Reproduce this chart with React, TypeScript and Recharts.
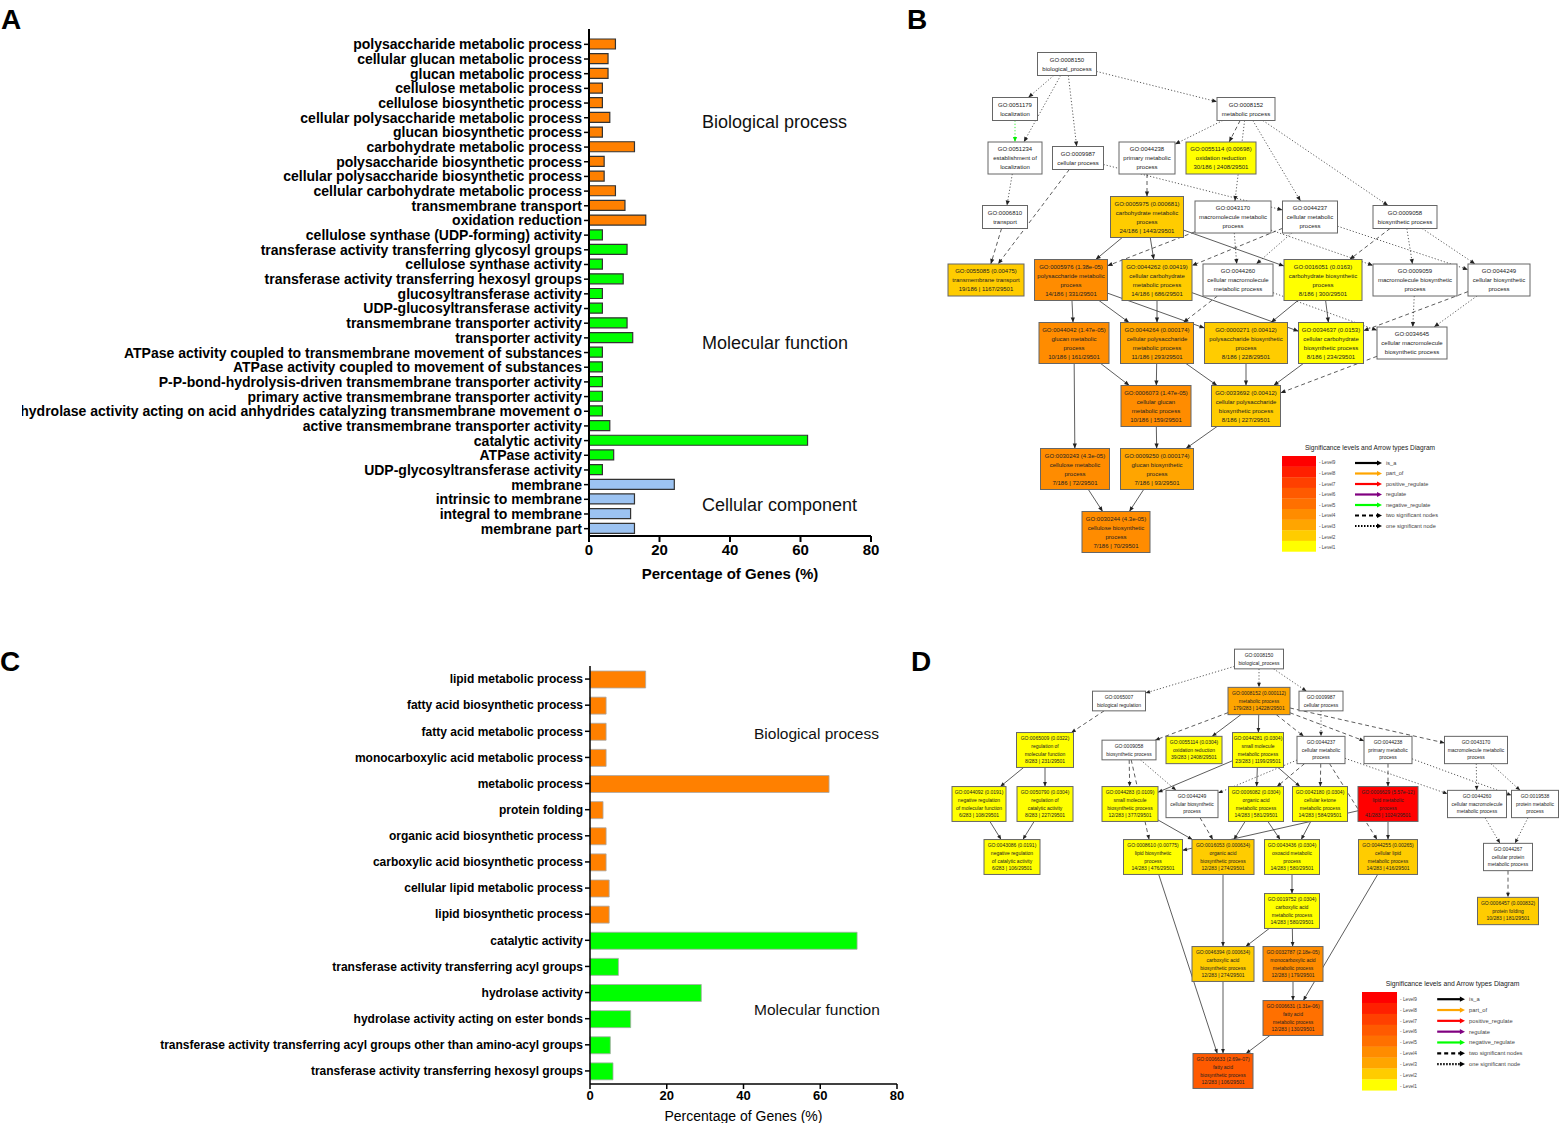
import { Bar, BarChart, Cell, Label, Scatter, ScatterChart, XAxis, YAxis } from 'recharts';

const FONT = '"Liberation Sans", Arial, sans-serif';

// ---------- panel A : GO enrichment, gene set 1 ----------
const A_TERMS = [
    'polysaccharide metabolic process',
    'cellular glucan metabolic process',
    'glucan metabolic process',
    'cellulose metabolic process',
    'cellulose biosynthetic process',
    'cellular polysaccharide metabolic process',
    'glucan biosynthetic process',
    'carbohydrate metabolic process',
    'polysaccharide biosynthetic process',
    'cellular polysaccharide biosynthetic process',
    'cellular carbohydrate metabolic process',
    'transmembrane transport',
    'oxidation reduction',
    'cellulose synthase (UDP-forming) activity',
    'transferase activity transferring glycosyl groups',
    'cellulose synthase activity',
    'transferase activity transferring hexosyl groups',
    'glucosyltransferase activity',
    'UDP-glucosyltransferase activity',
    'transmembrane transporter activity',
    'transporter activity',
    'ATPase activity coupled to transmembrane movement of substances',
    'ATPase activity coupled to movement of substances',
    'P-P-bond-hydrolysis-driven transmembrane transporter activity',
    'primary active transmembrane transporter activity',
    'hydrolase activity acting on acid anhydrides catalyzing transmembrane movement o',
    'active transmembrane transporter activity',
    'catalytic activity',
    'ATPase activity',
    'UDP-glycosyltransferase activity',
    'membrane',
    'intrinsic to membrane',
    'integral to membrane',
    'membrane part',
];
const A_VALUES = [
    7.5, 5.4, 5.4, 3.8, 3.8, 5.9, 3.8, 12.9, 4.3, 4.3, 7.5, 10.2, 16.1,
    3.8, 10.8, 3.8, 9.7, 3.8, 3.8, 10.8, 12.4, 3.8, 3.8, 3.8, 3.8, 3.8, 5.9, 62.0, 7.0, 3.8,
    24.2, 12.9, 11.8, 12.9,
];
const A_GROUPS = [
    'bp', 'bp', 'bp', 'bp', 'bp', 'bp', 'bp', 'bp', 'bp', 'bp', 'bp', 'bp', 'bp',
    'mf', 'mf', 'mf', 'mf', 'mf', 'mf', 'mf', 'mf', 'mf', 'mf', 'mf', 'mf', 'mf', 'mf', 'mf', 'mf', 'mf',
    'cc', 'cc', 'cc', 'cc',
];

// ---------- panel C : GO enrichment, gene set 2 ----------
const C_TERMS = [
    'lipid metabolic process',
    'fatty acid biosynthetic process',
    'fatty acid metabolic process',
    'monocarboxylic acid metabolic process',
    'metabolic process',
    'protein folding',
    'organic acid biosynthetic process',
    'carboxylic acid biosynthetic process',
    'cellular lipid metabolic process',
    'lipid biosynthetic process',
    'catalytic activity',
    'transferase activity transferring acyl groups',
    'hydrolase activity',
    'hydrolase activity acting on ester bonds',
    'transferase activity transferring acyl groups other than amino-acyl groups',
    'transferase activity transferring hexosyl groups',
];
const C_VALUES = [14.5, 4.2, 4.2, 4.2, 62.3, 3.4, 4.2, 4.2, 5.0, 5.0, 69.6, 7.4, 29.0, 10.6, 5.3, 6.0];
const C_GROUPS = ['bp', 'bp', 'bp', 'bp', 'bp', 'bp', 'bp', 'bp', 'bp', 'bp', 'mf', 'mf', 'mf', 'mf', 'mf', 'mf'];

const GROUP_FILL: Record<string, string> = { bp: '#ff8000', mf: '#00ff00', cc: '#9cc3f2' };
const X_TICKS = [0, 20, 40, 60, 80];

// ---------- GO graphs (B, D) ----------
// significance level 0 = not significant (white)
const LEVEL_COLORS = ['#ffffff', '#ffff00', '#ffcc00', '#ffa500', '#ff8c00', '#ff7000', '#ff5a00', '#ff4000', '#ff2000', '#ff0000'];

type GoNode = [string, string, string, string, number]; // id, label, p-value, counts, level
type GoEdge = [string, string, 's' | 'd' | 'o' | 'g'];

const B_NODES: GoNode[] = [
    ['GO:0008150', 'biological_process', '', '', 0],
    ['GO:0051179', 'localization', '', '', 0],
    ['GO:0008152', 'metabolic process', '', '', 0],
    ['GO:0051234', 'establishment of|localization', '', '', 0],
    ['GO:0009987', 'cellular process', '', '', 0],
    ['GO:0044238', 'primary metabolic|process', '', '', 0],
    ['GO:0055114', 'oxidation reduction', '0.00698', '30/186 | 2408/29501', 1],
    ['GO:0006810', 'transport', '', '', 0],
    ['GO:0005975', 'carbohydrate metabolic|process', '0.000681', '24/186 | 1443/29501', 2],
    ['GO:0043170', 'macromolecule metabolic|process', '', '', 0],
    ['GO:0044237', 'cellular metabolic|process', '', '', 0],
    ['GO:0009058', 'biosynthetic process', '', '', 0],
    ['GO:0055085', 'transmembrane transport', '0.00475', '19/186 | 1167/29501', 2],
    ['GO:0005976', 'polysaccharide metabolic|process', '1.38e-05', '14/186 | 331/29501', 4],
    ['GO:0044262', 'cellular carbohydrate|metabolic process', '0.00419', '14/186 | 686/29501', 2],
    ['GO:0044260', 'cellular macromolecule|metabolic process', '', '', 0],
    ['GO:0016051', 'carbohydrate biosynthetic|process', '0.0163', '8/186 | 300/29501', 1],
    ['GO:0009059', 'macromolecule biosynthetic|process', '', '', 0],
    ['GO:0044249', 'cellular biosynthetic|process', '', '', 0],
    ['GO:0044042', 'glucan metabolic|process', '1.47e-05', '10/186 | 161/29501', 4],
    ['GO:0044264', 'cellular polysaccharide|metabolic process', '0.000174', '11/186 | 293/29501', 3],
    ['GO:0000271', 'polysaccharide biosynthetic|process', '0.00412', '8/186 | 228/29501', 2],
    ['GO:0034637', 'cellular carbohydrate|biosynthetic process', '0.0153', '8/186 | 234/29501', 1],
    ['GO:0034645', 'cellular macromolecule|biosynthetic process', '', '', 0],
    ['GO:0006073', 'cellular glucan|metabolic process', '1.47e-05', '10/186 | 159/29501', 4],
    ['GO:0033692', 'cellular polysaccharide|biosynthetic process', '0.00412', '8/186 | 227/29501', 2],
    ['GO:0030243', 'cellulose metabolic|process', '4.3e-05', '7/186 | 72/29501', 4],
    ['GO:0009250', 'glucan biosynthetic|process', '0.000174', '7/186 | 93/29501', 3],
    ['GO:0030244', 'cellulose biosynthetic|process', '4.3e-05', '7/186 | 70/29501', 4],
];

const B_EDGES: GoEdge[] = [
    ['GO:0008150', 'GO:0051179', 'o'], ['GO:0008150', 'GO:0051234', 'o'], ['GO:0008150', 'GO:0009987', 'o'],
    ['GO:0008150', 'GO:0008152', 'o'], ['GO:0051179', 'GO:0051234', 'g'], ['GO:0051234', 'GO:0006810', 'o'],
    ['GO:0006810', 'GO:0055085', 'd'], ['GO:0009987', 'GO:0055085', 'd'], ['GO:0009987', 'GO:0044237', 'o'],
    ['GO:0008152', 'GO:0044238', 'o'], ['GO:0008152', 'GO:0055114', 'd'], ['GO:0008152', 'GO:0043170', 'o'],
    ['GO:0008152', 'GO:0044237', 'o'], ['GO:0008152', 'GO:0009058', 'o'], ['GO:0044238', 'GO:0005975', 'd'],
    ['GO:0005975', 'GO:0005976', 's'], ['GO:0005975', 'GO:0044262', 's'], ['GO:0005975', 'GO:0016051', 's'],
    ['GO:0043170', 'GO:0005976', 'd'], ['GO:0043170', 'GO:0044260', 'o'], ['GO:0043170', 'GO:0009059', 'o'],
    ['GO:0044237', 'GO:0044262', 'd'], ['GO:0044237', 'GO:0044260', 'o'], ['GO:0044237', 'GO:0044249', 'o'],
    ['GO:0009058', 'GO:0016051', 'd'], ['GO:0009058', 'GO:0009059', 'o'], ['GO:0009058', 'GO:0044249', 'o'],
    ['GO:0005976', 'GO:0044042', 's'], ['GO:0005976', 'GO:0044264', 's'], ['GO:0005976', 'GO:0000271', 's'],
    ['GO:0044262', 'GO:0044264', 's'], ['GO:0044262', 'GO:0034637', 's'], ['GO:0044260', 'GO:0044264', 'd'],
    ['GO:0044260', 'GO:0034645', 'o'], ['GO:0016051', 'GO:0000271', 's'], ['GO:0016051', 'GO:0034637', 's'],
    ['GO:0009059', 'GO:0034645', 'o'], ['GO:0044249', 'GO:0034637', 'd'], ['GO:0044249', 'GO:0034645', 'o'],
    ['GO:0044042', 'GO:0006073', 's'], ['GO:0044042', 'GO:0030243', 's'], ['GO:0044264', 'GO:0006073', 's'],
    ['GO:0044264', 'GO:0033692', 's'], ['GO:0000271', 'GO:0033692', 's'], ['GO:0034637', 'GO:0033692', 's'],
    ['GO:0034645', 'GO:0033692', 'd'], ['GO:0006073', 'GO:0009250', 's'], ['GO:0033692', 'GO:0009250', 's'],
    ['GO:0030243', 'GO:0030244', 's'], ['GO:0009250', 'GO:0030244', 's'],
];

const D_NODES: GoNode[] = [
    ['GO:0008150', 'biological_process', '', '', 0],
    ['GO:0065007', 'biological regulation', '', '', 0],
    ['GO:0008152', 'metabolic process', '0.000112', '179/283 | 14228/29501', 3],
    ['GO:0009987', 'cellular process', '', '', 0],
    ['GO:0065009', 'regulation of|molecular function', '0.0322', '8/283 | 231/29501', 1],
    ['GO:0009058', 'biosynthetic process', '', '', 0],
    ['GO:0055114', 'oxidation reduction', '0.0304', '39/283 | 2408/29501', 1],
    ['GO:0044281', 'small molecule|metabolic process', '0.0304', '23/283 | 1199/29501', 1],
    ['GO:0044237', 'cellular metabolic|process', '', '', 0],
    ['GO:0044238', 'primary metabolic|process', '', '', 0],
    ['GO:0043170', 'macromolecule metabolic|process', '', '', 0],
    ['GO:0044092', 'negative regulation|of molecular function', '0.0191', '6/283 | 108/29501', 1],
    ['GO:0050790', 'regulation of|catalytic activity', '0.0304', '8/283 | 227/29501', 1],
    ['GO:0044283', 'small molecule|biosynthetic process', '0.0109', '12/283 | 377/29501', 1],
    ['GO:0044249', 'cellular biosynthetic|process', '', '', 0],
    ['GO:0006082', 'organic acid|metabolic process', '0.0304', '14/283 | 581/29501', 1],
    ['GO:0042180', 'cellular ketone|metabolic process', '0.0304', '14/283 | 584/29501', 1],
    ['GO:0006629', 'lipid metabolic|process', '5.57e-12', '41/283 | 1024/29501', 9],
    ['GO:0044260', 'cellular macromolecule|metabolic process', '', '', 0],
    ['GO:0019538', 'protein metabolic|process', '', '', 0],
    ['GO:0043086', 'negative regulation|of catalytic activity', '0.0191', '6/283 | 106/29501', 1],
    ['GO:0008610', 'lipid biosynthetic|process', '0.00775', '14/283 | 476/29501', 1],
    ['GO:0016053', 'organic acid|biosynthetic process', '0.000634', '12/283 | 274/29501', 2],
    ['GO:0043436', 'oxoacid metabolic|process', '0.0304', '14/283 | 580/29501', 1],
    ['GO:0044255', 'cellular lipid|metabolic process', '0.00265', '14/283 | 416/29501', 2],
    ['GO:0044267', 'cellular protein|metabolic process', '', '', 0],
    ['GO:0019752', 'carboxylic acid|metabolic process', '0.0304', '14/283 | 580/29501', 1],
    ['GO:0006457', 'protein folding', '0.000832', '10/283 | 181/29501', 2],
    ['GO:0046394', 'carboxylic acid|biosynthetic process', '0.000634', '12/283 | 274/29501', 2],
    ['GO:0032787', 'monocarboxylic acid|metabolic process', '2.18e-05', '12/283 | 179/29501', 4],
    ['GO:0006631', 'fatty acid|metabolic process', '1.31e-06', '12/283 | 130/29501', 5],
    ['GO:0006633', 'fatty acid|biosynthetic process', '2.69e-07', '12/283 | 106/29501', 6],
];

const D_EDGES: GoEdge[] = [
    ['GO:0008150', 'GO:0065007', 'o'], ['GO:0008150', 'GO:0008152', 'o'], ['GO:0008150', 'GO:0009987', 'o'],
    ['GO:0065007', 'GO:0065009', 'd'], ['GO:0008152', 'GO:0009058', 'd'], ['GO:0008152', 'GO:0055114', 's'],
    ['GO:0008152', 'GO:0044281', 's'], ['GO:0008152', 'GO:0044237', 'd'], ['GO:0008152', 'GO:0044238', 'd'],
    ['GO:0008152', 'GO:0043170', 'd'], ['GO:0009987', 'GO:0044237', 'o'], ['GO:0065009', 'GO:0044092', 's'],
    ['GO:0065009', 'GO:0050790', 's'], ['GO:0009058', 'GO:0044283', 'd'], ['GO:0009058', 'GO:0044249', 'o'],
    ['GO:0009058', 'GO:0008610', 'd'], ['GO:0044281', 'GO:0044283', 's'], ['GO:0044281', 'GO:0006082', 's'],
    ['GO:0044281', 'GO:0042180', 's'], ['GO:0044237', 'GO:0044249', 'o'], ['GO:0044237', 'GO:0006082', 'd'],
    ['GO:0044237', 'GO:0042180', 'd'], ['GO:0044237', 'GO:0044260', 'o'], ['GO:0044237', 'GO:0044255', 'd'],
    ['GO:0044238', 'GO:0006629', 'd'], ['GO:0044238', 'GO:0019538', 'o'], ['GO:0043170', 'GO:0044260', 'o'],
    ['GO:0043170', 'GO:0019538', 'o'], ['GO:0044092', 'GO:0043086', 's'], ['GO:0050790', 'GO:0043086', 's'],
    ['GO:0044283', 'GO:0016053', 's'], ['GO:0044249', 'GO:0016053', 'd'], ['GO:0006082', 'GO:0016053', 's'],
    ['GO:0006082', 'GO:0043436', 's'], ['GO:0042180', 'GO:0043436', 's'], ['GO:0006629', 'GO:0008610', 's'],
    ['GO:0006629', 'GO:0044255', 's'], ['GO:0044260', 'GO:0044267', 'o'], ['GO:0019538', 'GO:0044267', 'o'],
    ['GO:0044267', 'GO:0006457', 'd'], ['GO:0043436', 'GO:0019752', 's'], ['GO:0016053', 'GO:0046394', 's'],
    ['GO:0019752', 'GO:0046394', 's'], ['GO:0019752', 'GO:0032787', 's'], ['GO:0032787', 'GO:0006631', 's'],
    ['GO:0044255', 'GO:0006631', 's'], ['GO:0008610', 'GO:0006633', 's'], ['GO:0046394', 'GO:0006633', 's'],
    ['GO:0006631', 'GO:0006633', 's'],
];

// graph layout: node centre x, centre y, box width (graph units = px)
const B_LAYOUT: Record<string, [number, number, number]> = {
    'GO:0008150': [127, 24, 59], 'GO:0051179': [75, 69, 45], 'GO:0008152': [306, 69, 58],
    'GO:0051234': [75, 118, 54], 'GO:0009987': [138, 118, 51], 'GO:0044238': [207, 118, 56],
    'GO:0055114': [281, 118, 70], 'GO:0006810': [65, 177, 45], 'GO:0005975': [207, 177, 73],
    'GO:0043170': [293, 177, 76], 'GO:0044237': [370, 177, 55], 'GO:0009058': [465, 177, 64],
    'GO:0055085': [46, 240, 76], 'GO:0005976': [131, 240, 73], 'GO:0044262': [217, 240, 70],
    'GO:0044260': [298, 240, 70], 'GO:0016051': [383, 240, 78], 'GO:0009059': [475, 240, 84],
    'GO:0044249': [559, 240, 62], 'GO:0044042': [134, 303, 70], 'GO:0044264': [217, 303, 73],
    'GO:0000271': [306, 303, 83], 'GO:0034637': [391, 303, 65], 'GO:0034645': [472, 303, 70],
    'GO:0006073': [216, 366, 70], 'GO:0033692': [306, 366, 69], 'GO:0030243': [135, 429, 69],
    'GO:0009250': [217, 429, 73], 'GO:0030244': [176, 492, 68],
};
const D_LAYOUT: Record<string, [number, number, number]> = {
    'GO:0008150': [309, 19, 49], 'GO:0065007': [169, 61, 53], 'GO:0008152': [309, 61, 62],
    'GO:0009987': [371, 61, 44], 'GO:0065009': [95, 110, 57], 'GO:0009058': [179, 110, 54],
    'GO:0055114': [244, 110, 56], 'GO:0044281': [308, 110, 51], 'GO:0044237': [371, 110, 48],
    'GO:0044238': [438, 110, 48], 'GO:0043170': [526, 110, 63], 'GO:0044092': [29, 164, 54],
    'GO:0050790': [95, 164, 56], 'GO:0044283': [180, 164, 56], 'GO:0044249': [242, 164, 52],
    'GO:0006082': [306, 164, 55], 'GO:0042180': [370, 164, 55], 'GO:0006629': [438, 164, 60],
    'GO:0044260': [527, 164, 59], 'GO:0019538': [585, 164, 47], 'GO:0043086': [62, 217, 56],
    'GO:0008610': [203, 217, 59], 'GO:0016053': [273, 217, 62], 'GO:0043436': [342, 217, 55],
    'GO:0044255': [438, 217, 59], 'GO:0044267': [558, 217, 49], 'GO:0019752': [342, 271, 55],
    'GO:0006457': [558, 271, 61], 'GO:0046394': [273, 324, 62], 'GO:0032787': [343, 324, 60],
    'GO:0006631': [343, 378, 60], 'GO:0006633': [273, 431, 60],
};

const EDGE_STYLE: Record<string, { stroke: string; dash?: string }> = {
    s: { stroke: '#333' },
    d: { stroke: '#333', dash: '4 3' },
    o: { stroke: '#333', dash: '1.2 2' },
    g: { stroke: '#00ee00', dash: '1.2 2' },
};

const LEGEND_ARROWS: [string, string, string | undefined][] = [
    ['is_a', '#000', undefined],
    ['part_of', '#ffa500', undefined],
    ['positive_regulate', '#ff0000', undefined],
    ['regulate', '#800080', undefined],
    ['negative_regulate', '#00ff00', undefined],
    ['two significant nodes', '#000', '4 3'],
    ['one significant node', '#000', '1.5 1.5'],
];

interface GraphNode {
    id: string;
    x: number;
    y: number;
    w: number;
    h: number;
    lines: string[];
    fill: string;
    fs: number;
    lh: number;
}

function buildNodes(nodes: GoNode[], layout: Record<string, [number, number, number]>, fs: number, lh: number, pad: number): GraphNode[] {
    return nodes.map(([id, label, p, counts, level]) => {
        const [x, y, w] = layout[id];
        const lines = [p ? `${id} (${p})` : id, ...label.split('|'), ...(counts ? [counts] : [])];
        return { id, x, y, w, h: lines.length * lh + pad, lines, fill: LEVEL_COLORS[level], fs, lh };
    });
}

function borderPoint(n: GraphNode, tx: number, ty: number) {
    const dx = tx - n.x;
    const dy = ty - n.y;
    const t = Math.min(dx ? n.w / 2 / Math.abs(dx) : Infinity, dy ? n.h / 2 / Math.abs(dy) : Infinity);
    return { x: n.x + dx * t, y: n.y + dy * t };
}

function NodeBox(props: any) {
    const { cx, cy, payload } = props;
    const n: GraphNode = payload;
    const mid = (n.lines.length - 1) / 2;
    return (
        <g>
            <rect x={cx - n.w / 2} y={cy - n.h / 2} width={n.w} height={n.h} fill={n.fill} stroke="#666" strokeWidth={1} />
            {n.lines.map((line, i) => (
                <text key={i} x={cx} y={cy + (i - mid) * n.lh} dy="0.35em" textAnchor="middle" fontSize={n.fs} fill="#222" fontFamily={FONT}>
                    {line}
                </text>
            ))}
        </g>
    );
}

function GoGraph({ nodes, edges, layout, width, height, fs, lh, pad, arrow }: {
    nodes: GoNode[];
    edges: GoEdge[];
    layout: Record<string, [number, number, number]>;
    width: number;
    height: number;
    fs: number;
    lh: number;
    pad: number;
    arrow: number;
}) {
    const nodeData = buildNodes(nodes, layout, fs, lh, pad);
    const byId: Record<string, GraphNode> = {};
    nodeData.forEach((n) => { byId[n.id] = n; });

    const edgeData = edges.map(([from, to, style]) => {
        const s = byId[from];
        const t = byId[to];
        const p1 = borderPoint(s, t.x, t.y);
        const p2 = borderPoint(t, s.x, s.y);
        const ang = Math.atan2(p2.y - p1.y, p2.x - p1.x);
        return { style, pts: [{ x: p1.x, y: p1.y, head: false, ang }, { x: p2.x, y: p2.y, head: true, ang }] };
    });

    const arrowHead = (color: string) => (props: any) => {
        const { cx, cy, payload } = props;
        if (!payload.head) return <g />;
        const a = payload.ang;
        const bx = cx - arrow * Math.cos(a);
        const by = cy - arrow * Math.sin(a);
        const hw = arrow * 0.42;
        const pts = `${cx},${cy} ${bx - hw * Math.sin(a)},${by + hw * Math.cos(a)} ${bx + hw * Math.sin(a)},${by - hw * Math.cos(a)}`;
        return <polygon points={pts} fill={color} />;
    };

    return (
        <ScatterChart width={width} height={height} margin={{ top: 0, right: 0, bottom: 0, left: 0 }}>
            <XAxis type="number" dataKey="x" domain={[0, width]} allowDataOverflow hide />
            <YAxis type="number" dataKey="y" domain={[0, height]} allowDataOverflow reversed hide />
            {edgeData.map((e, i) => (
                <Scatter
                    key={`e${i}`}
                    data={e.pts}
                    line={{ stroke: EDGE_STYLE[e.style].stroke, strokeWidth: 0.8, strokeDasharray: EDGE_STYLE[e.style].dash }}
                    shape={arrowHead(e.style === 'g' ? '#00ee00' : '#222')}
                    isAnimationActive={false}
                />
            ))}
            <Scatter data={nodeData} shape={NodeBox} isAnimationActive={false} />
        </ScatterChart>
    );
}

function SigLegend({ left, top, s }: { left: number; top: number; s: number }) {
    const cell = 10.6 * s;
    return (
        <svg style={{ position: 'absolute', left, top: top - 14, overflow: 'visible' }} width={200 * s} height={120 * s}>
            <g transform="translate(0,14)">
                <text x={88 * s} y={-6 * s} textAnchor="middle" fontSize={6.6 * s} fill="#222" fontFamily={FONT}>
                    Significance levels and Arrow types Diagram
                </text>
                {LEVEL_COLORS.slice(1).reverse().map((c, i) => (
                    <g key={c}>
                        <rect x={0} y={i * cell} width={34 * s} height={cell + 0.3} fill={c} />
                        <text x={37 * s} y={i * cell + cell * 0.8} fontSize={4.6 * s} fill="#444" fontFamily={FONT}>
                            {`- Level${9 - i}`}
                        </text>
                    </g>
                ))}
                {LEGEND_ARROWS.map(([name, color, dash], i) => {
                    const y = (7 + 10.5 * i) * s;
                    return (
                        <g key={name}>
                            <line x1={73 * s} y1={y} x2={96 * s} y2={y} stroke={color} strokeWidth={2.2} strokeDasharray={dash} />
                            <polygon points={`${100 * s},${y} ${95 * s},${y - 2.6} ${95 * s},${y + 2.6}`} fill={color} />
                            <text x={104 * s} y={y} dy="0.35em" fontSize={5.6 * s} fill="#444" fontFamily={FONT}>
                                {name}
                            </text>
                        </g>
                    );
                })}
            </g>
        </svg>
    );
}

const categoryTick = (fontSize: number) => (props: any) => (
    <text x={props.x} y={props.y} dy="0.355em" textAnchor="end" fontSize={fontSize} fontWeight={700} fill="#000" fontFamily={FONT}>
        {props.payload.value}
    </text>
);

function PanelLetter({ children, left, top }: { children: string; left: number; top: number }) {
    return (
        <div style={{ position: 'absolute', left, top, fontSize: 28, lineHeight: '28px', fontWeight: 700, color: '#000' }}>
            {children}
        </div>
    );
}

function GroupLabel({ children, left, y, size }: { children: string; left: number; y: number; size: number }) {
    return (
        <div style={{ position: 'absolute', left, top: y - size / 2, fontSize: size, lineHeight: `${size}px`, color: '#111', whiteSpace: 'nowrap' }}>
            {children}
        </div>
    );
}

export default function App() {
    const aRows = A_TERMS.map((term, i) => ({ term, value: A_VALUES[i], group: A_GROUPS[i] }));
    const cRows = C_TERMS.map((term, i) => ({ term, value: C_VALUES[i], group: C_GROUPS[i] }));

    return (
        <div style={{ position: 'absolute', left: 0, top: 0, width: 1559, height: 1123, background: '#fff', fontFamily: FONT, overflow: 'hidden' }}>
            <PanelLetter left={1} top={6}>A</PanelLetter>
            <PanelLetter left={907} top={6}>B</PanelLetter>
            <PanelLetter left={0} top={648}>C</PanelLetter>
            <PanelLetter left={911} top={648}>D</PanelLetter>

            {/* panel A */}
            <div style={{ position: 'absolute', left: 22, top: 0 }}>
                <BarChart layout="vertical" width={860} height={590} data={aRows} margin={{ top: 29, right: 11, left: 0, bottom: 0 }}>
                    <XAxis
                        type="number"
                        domain={[0, 80]}
                        ticks={X_TICKS}
                        height={54}
                        axisLine={{ stroke: '#000', strokeWidth: 2 }}
                        tickLine={{ stroke: '#000', strokeWidth: 2 }}
                        tickSize={6}
                        tick={{ fill: '#000', fontSize: 15, fontWeight: 700 }}
                    >
                        <Label value="Percentage of Genes (%)" position="insideBottom" offset={11} fill="#000" fontSize={15} fontWeight={700} />
                    </XAxis>
                    <YAxis
                        type="category"
                        dataKey="term"
                        width={567}
                        interval={0}
                        padding={{ top: 8, bottom: 0 }}
                        tickSize={5}
                        axisLine={{ stroke: '#000', strokeWidth: 2 }}
                        tickLine={{ stroke: '#000', strokeWidth: 1.5 }}
                        tick={categoryTick(14)}
                    />
                    <Bar dataKey="value" barSize={10} stroke="#333" strokeWidth={1.2} isAnimationActive={false}>
                        {aRows.map((r, i) => (
                            <Cell key={i} fill={GROUP_FILL[r.group]} />
                        ))}
                    </Bar>
                </BarChart>
            </div>
            <GroupLabel left={702} y={122} size={18}>Biological process</GroupLabel>
            <GroupLabel left={702} y={343} size={18}>Molecular function</GroupLabel>
            <GroupLabel left={702} y={505} size={18}>Cellular component</GroupLabel>

            {/* panel C */}
            <div style={{ position: 'absolute', left: 157, top: 640 }}>
                <BarChart layout="vertical" width={760} height={483} data={cRows} margin={{ top: 26, right: 20, left: 0, bottom: 0 }}>
                    <XAxis
                        type="number"
                        domain={[0, 80]}
                        ticks={X_TICKS}
                        height={39}
                        axisLine={{ stroke: '#000', strokeWidth: 1.5 }}
                        tickLine={{ stroke: '#000', strokeWidth: 1.5 }}
                        tickSize={5}
                        tick={{ fill: '#000', fontSize: 13, fontWeight: 700 }}
                    >
                        <Label value="Percentage of Genes (%)" position="insideBottom" offset={2} fill="#000" fontSize={14} />
                    </XAxis>
                    <YAxis
                        type="category"
                        dataKey="term"
                        width={433}
                        interval={0}
                        tickSize={5}
                        axisLine={{ stroke: '#000', strokeWidth: 1.5 }}
                        tickLine={{ stroke: '#000', strokeWidth: 1.5 }}
                        tick={categoryTick(12)}
                    />
                    <Bar dataKey="value" barSize={17} stroke="#aaa" strokeWidth={0.8} isAnimationActive={false}>
                        {cRows.map((r, i) => (
                            <Cell key={i} fill={GROUP_FILL[r.group]} />
                        ))}
                    </Bar>
                </BarChart>
            </div>
            <GroupLabel left={754} y={734} size={15.5}>Biological process</GroupLabel>
            <GroupLabel left={754} y={1010} size={15.5}>Molecular function</GroupLabel>

            {/* panel B */}
            <div style={{ position: 'absolute', left: 940, top: 40 }}>
                <GoGraph nodes={B_NODES} edges={B_EDGES} layout={B_LAYOUT} width={600} height={530} fs={6} lh={9} pad={5} arrow={5} />
            </div>
            <SigLegend left={1282} top={456} s={1} />

            {/* panel D */}
            <div style={{ position: 'absolute', left: 950, top: 640 }}>
                <GoGraph nodes={D_NODES} edges={D_EDGES} layout={D_LAYOUT} width={609} height={483} fs={5} lh={7.6} pad={4.5} arrow={4.5} />
            </div>
            <SigLegend left={1362} top={992} s={1.03} />
        </div>
    );
}
